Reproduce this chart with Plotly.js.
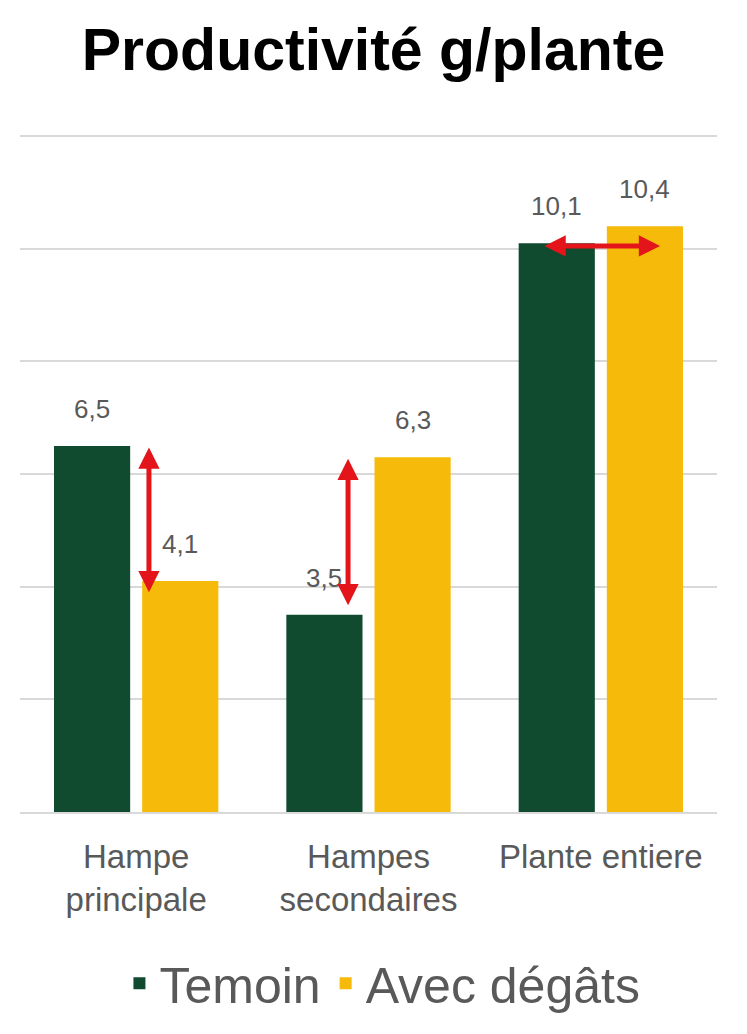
<!DOCTYPE html>
<html>
<head>
<meta charset="utf-8">
<script src="https://cdn.plot.ly/plotly-3.0.1.min.js"></script>
<style>
  html, body { margin: 0; padding: 0; background: #fff; }
  #plot { width: 747px; height: 1034px; }
</style>
</head>
<body>
<div id="plot"></div>
<script>
// Categories and series
var categories = ["Hampe<br>principale", "Hampes<br>secondaires", "Plante entiere"];
var temoin = [6.5, 3.5, 10.1];
var avecDegats = [4.1, 6.3, 10.4];

var green = "#114b2f";
var gold = "#f6bb0a";

// Bar traces
var trace1 = {
  x: [0, 1, 2],
  y: temoin,
  name: "Temoin",
  type: "bar",
  marker: { color: green },
  hoverinfo: "skip"
};

var trace2 = {
  x: [0, 1, 2],
  y: avecDegats,
  name: "Avec dégâts",
  type: "bar",
  marker: { color: gold },
  hoverinfo: "skip"
};

// Value labels above each bar
var offset = 0.19;
var labels = [];
temoin.forEach(function (v, i) {
  labels.push({ x: i - offset, y: v, text: String(v).replace(".", ","),
    showarrow: false, yanchor: "bottom", yshift: 20,
    font: { family: "Liberation Sans, Arial", size: 26, color: "#595959" } });
});
avecDegats.forEach(function (v, i) {
  labels.push({ x: i + offset, y: v, text: String(v).replace(".", ","),
    showarrow: false, yanchor: "bottom", yshift: 20,
    font: { family: "Liberation Sans, Arial", size: 26, color: "#595959" } });
});

// Red double-headed arrows showing the difference
function arrow(x0, y0, x1, y1) {
  return {
    x: x1, y: y1, ax: x0, ay: y0, xref: "x", yref: "y", axref: "x", ayref: "y",
    text: "", showarrow: true, arrowside: "end+start", arrowhead: 2,
    arrowsize: 0.85, arrowwidth: 5, arrowcolor: "#e3151b", standoff: 0, startstandoff: 0
  };
}
var arrows = [
  arrow(0.055, temoin[0], 0.055, 3.9),
  arrow(0.912, avecDegats[1], 0.912, 3.67),
  arrow(1.751, 10.05, 2.255, 10.05)
];

var layout = {
  width: 747,
  height: 1034,
  paper_bgcolor: "#ffffff",
  plot_bgcolor: "#ffffff",
  margin: { l: 20, r: 30, t: 135, b: 222 },
  title: {
    text: "<b>Productivité g/plante</b>",
    font: { family: "Liberation Sans, Arial", size: 59, color: "#000000" },
    x: 0.5, xanchor: "center", y: 0.952, yanchor: "middle"
  },
  barmode: "group",
  bargap: 0.241,
  bargroupgap: 0.136,
  xaxis: {
    tickmode: "array",
    tickvals: [0, 1, 2],
    ticktext: categories,
    range: [-0.5, 2.5],
    showline: true,
    linecolor: "#d9d9d9",
    linewidth: 2,
    ticks: "",
    ticklabelstandoff: 14,
    tickfont: { family: "Liberation Sans, Arial", size: 33, color: "#595959" }
  },
  yaxis: {
    range: [0, 12.02],
    tickvals: [2, 4, 6, 8, 10, 12],
    showticklabels: false,
    showgrid: true,
    gridcolor: "#d9d9d9",
    gridwidth: 2,
    zeroline: false
  },
  legend: {
    orientation: "h",
    x: 0.52, xanchor: "center",
    y: -0.253, yanchor: "middle",
    font: { family: "Liberation Sans, Arial", size: 50, color: "#595959" },
    itemwidth: 30
  },
  annotations: labels.concat(arrows),
  showlegend: true
};

Plotly.newPlot("plot", [trace1, trace2], layout, { displayModeBar: false, staticPlot: true });
</script>
</body>
</html>
